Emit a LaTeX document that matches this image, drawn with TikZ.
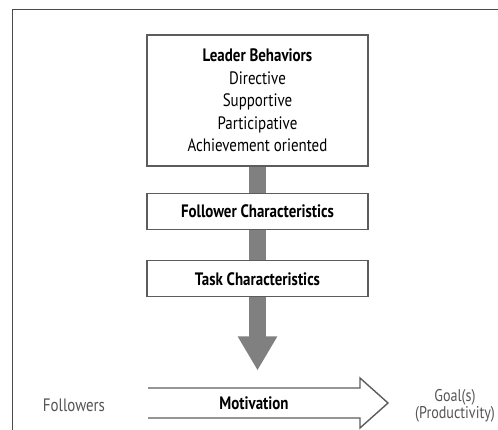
\documentclass[tikz,border=0pt]{standalone}
\usepackage{fontspec}
\setmainfont[FakeStretch=0.83]{PT Sans}
\usetikzlibrary{arrows.meta,positioning,calc}

\definecolor{framegray}{HTML}{4A4A4A}
\definecolor{boxgray}{HTML}{5C5C5C}
\definecolor{bargray}{HTML}{808080}
\definecolor{textgray}{HTML}{555555}

\begin{document}
\begin{tikzpicture}[x=1pt,y=-1pt,semithick,node distance=26pt,
        font=\fontsize{18}{22.5}\selectfont]
        \tikzstyle{box}=[draw=boxgray,line width=1.4pt,fill=white,minimum width=221pt,align=center,inner sep=0pt]
        \tikzstyle{bar}=[draw=bargray,line width=17pt]
        \tikzstyle{side}=[text=textgray,align=center]
    \useasboundingbox (0,0) rectangle (498,430);
    % frame round the figure
    \draw[framegray,line width=1pt] (12,430) -- (12,10) -- (498,10);
    % chain of boxes
    \node[box,minimum height=131pt] (lead) at (257.5,100.5)
        {\textbf{Leader Behaviors}\\Directive\\Supportive\\Participative\\Achievement oriented};
    \node[box,minimum height=36pt] (foll) [below=of lead] {\textbf{Follower Characteristics}};
    \node[box,minimum height=36pt] (task) [below=30pt of foll] {\textbf{Task Characteristics}};
    \coordinate (tip) at ($(task.south)+(0,73)$);
    \path[bar]
        (lead.south) edge (foll.north)
        (foll.south) edge (task.north);
    \draw[bar,-{Triangle[width=37pt,length=34pt]}] (task.south) -- (tip);
    % motivation arrow along the bottom
    \node[font=\fontsize{18}{18}\selectfont\bfseries] (mot) at (254,403) {Motivation};
    \draw[boxgray,line width=1.4pt] (148,388) -- (360,388) -- (360,378) -- (388,403)
        -- (360,428) -- (360,418) -- (148,418);
    \node[side] (fol) at (74,405) {Followers};
    \node[side,font=\fontsize{17}{17.5}\selectfont] (goal) at (455,406) {Goal(s)\\(Productivity)};
\end{tikzpicture}
\end{document}
